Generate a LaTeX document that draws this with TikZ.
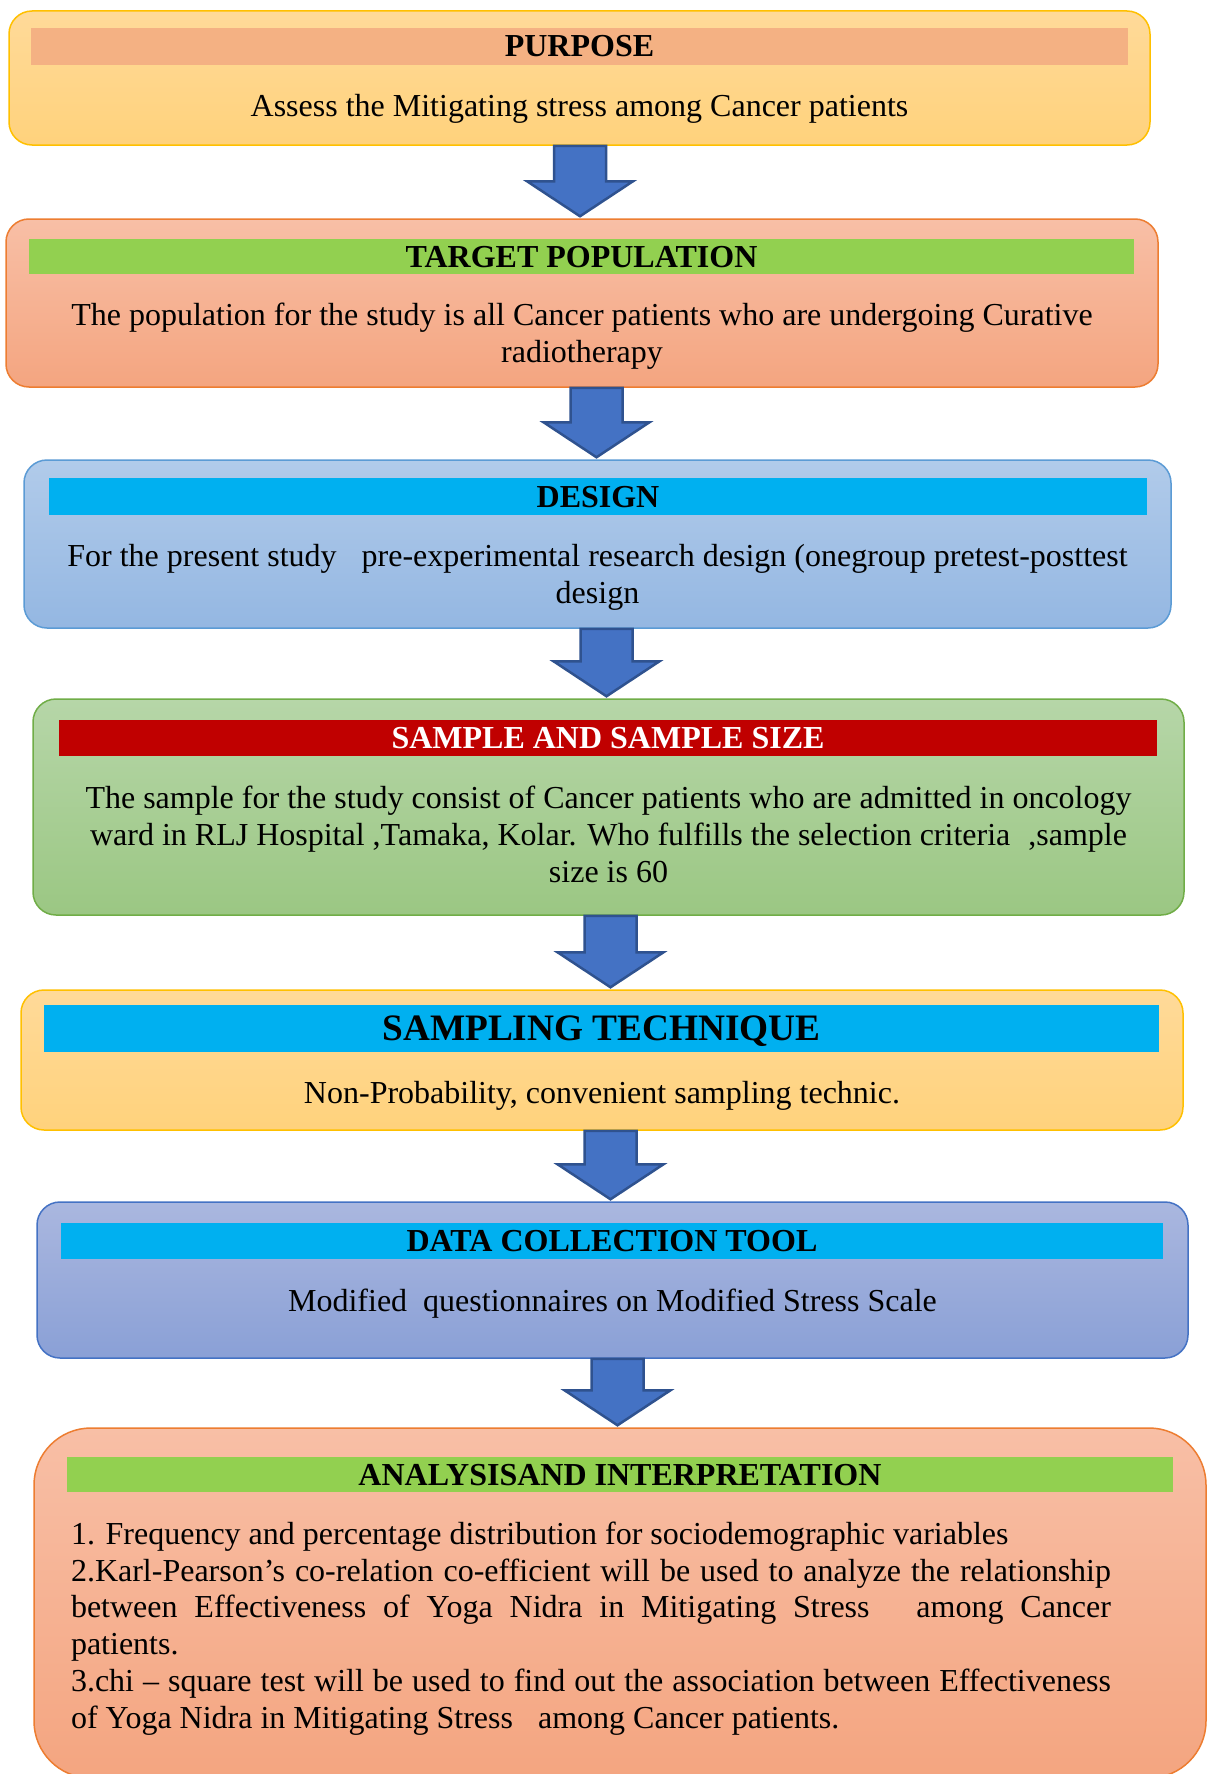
\documentclass[tikz,border=0pt]{standalone}
\usepackage{fontspec}
\setmainfont{Liberation Serif}
\usetikzlibrary{calc}
\definecolor{yTop}{HTML}{FFDA99}
\definecolor{yBot}{HTML}{FFD27C}
\definecolor{yLine}{HTML}{FFC000}
\definecolor{oTop}{HTML}{F8BFA6}
\definecolor{oBot}{HTML}{F4A580}
\definecolor{oLine}{HTML}{ED7D31}
\definecolor{bTop}{HTML}{B1CBEA}
\definecolor{bBot}{HTML}{94B7E2}
\definecolor{bLine}{HTML}{5B9BD5}
\definecolor{gTop}{HTML}{B6D6A8}
\definecolor{gBot}{HTML}{9BC783}
\definecolor{gLine}{HTML}{70AD47}
\definecolor{vTop}{HTML}{AAB7DF}
\definecolor{vBot}{HTML}{8AA0D6}
\definecolor{vLine}{HTML}{4472C4}
\definecolor{hPeach}{HTML}{F4B183}
\definecolor{hGreen}{HTML}{92D050}
\definecolor{hCyan}{HTML}{00B0F0}
\definecolor{hRed}{HTML}{C00000}
\definecolor{arFill}{HTML}{4472C4}
\definecolor{arLine}{HTML}{2F528F}
\newcommand\blockarrow[3]{%
  \draw[blockar] let \p1=(#1.south), \p2=(#2.north) in
    (\x2+#3pt-26pt,\y1) -- (\x2+#3pt+26pt,\y1) -- (\x2+#3pt+26pt,\y2+37pt)
    -- (\x2+#3pt+53pt,\y2+37pt) -- (\x2+#3pt,\y2+2pt) -- (\x2+#3pt-53pt,\y2+37pt)
    -- (\x2+#3pt-26pt,\y2+37pt) -- cycle;}
\begin{document}
\begin{tikzpicture}[x=1pt,y=-1pt,
  box/.style={rectangle, rounded corners=23pt, line width=1.5pt, inner sep=0pt},
  hdr/.style={rectangle, inner sep=0pt, text height=21pt, text depth=0pt,
    font=\fontsize{32}{36.8}\selectfont\bfseries},
  bigHdr/.style={hdr, text height=24.7pt, font=\fontsize{37.3}{42.9}\selectfont\bfseries},
  body/.style={inner sep=0pt, align=center, font=\fontsize{32}{36.8}\selectfont},
  blockar/.style={fill=arFill, draw=arLine, line width=2.5pt, line join=miter}]
\useasboundingbox (0,0) rectangle (1209,1774);
\fill[white] (0,0) rectangle (1209,1774);
\clip (0,0) rectangle (1209,1774);

% boxes
\node[box, top color=yTop, bottom color=yBot, draw=yLine, minimum width=1141pt, minimum height=134pt] (b1) at (579.5,78) {};
\node[box, top color=oTop, bottom color=oBot, draw=oLine, minimum width=1152pt, minimum height=168pt] (b2) at (582,303) {};
\node[box, top color=bTop, bottom color=bBot, draw=bLine, minimum width=1147pt, minimum height=168pt] (b3) at (597.5,544) {};
\node[box, top color=gTop, bottom color=gBot, draw=gLine, minimum width=1151pt, minimum height=216pt] (b4) at (608.5,807) {};
\node[box, top color=yTop, bottom color=yBot, draw=yLine, minimum width=1162pt, minimum height=140pt] (b5) at (602,1060) {};
\node[box, top color=vTop, bottom color=vBot, draw=vLine, minimum width=1151pt, minimum height=156pt] (b6) at (612.5,1280) {};
\node[box, rounded corners=57pt, top color=oTop, bottom color=oBot, draw=oLine, minimum width=1172pt, minimum height=350pt] (b7) at (620,1603) {};

% headers
\node[hdr, fill=hPeach, minimum width=1097pt, minimum height=37pt] (h1) at (579.5,46.5) {PURPOSE};
\node[hdr, fill=hGreen, minimum width=1105pt, minimum height=35pt] (h2) at (581.5,256.5) {TARGET POPULATION};
\node[hdr, fill=hCyan, minimum width=1098pt, minimum height=37pt] (h3) at (598,496.5) {DESIGN};
\node[hdr, fill=hRed, text=white, minimum width=1098pt, minimum height=36pt] (h4) at (608,738) {SAMPLE AND SAMPLE SIZE};
\node[bigHdr, fill=hCyan, minimum width=1115pt, minimum height=47pt] (h5) at (601.5,1028.5) {SAMPLING TECHNIQUE};
\node[hdr, fill=hCyan, minimum width=1102pt, minimum height=36pt] (h6) at (612,1241) {DATA COLLECTION TOOL};
\node[hdr, fill=hGreen, minimum width=1106pt, minimum height=35pt] (h7) at (620,1474.5) {ANALYSISAND INTERPRETATION};

% body texts
\node[body] (t1) at (579.5,109) {\strut Assess the Mitigating stress among Cancer patients\strut};
\node[body] (t2) at (582,336.5) {\strut The population for the study is all Cancer patients who are undergoing Curative\\ radiotherapy\strut};
\node[body] (t3) at (597.5,577.5) {\strut For the present study\hspace{17pt} pre-experimental research design (onegroup pretest-posttest\\ design\strut};
\node[body] (t4) at (608.5,838) {\strut The sample for the study consist of Cancer patients who are admitted in oncology\\ ward in RLJ Hospital ,Tamaka, Kolar. Who fulfills the selection criteria\hspace{10pt} ,sample\\ size is 60\strut};
\node[body] (t5) at (602,1096) {\strut Non-Probability, convenient sampling technic.\strut};
\node[body] (t6) at (612.5,1304) {\strut Modified\hspace{8pt} questionnaires on Modified Stress Scale\strut};
\node[inner sep=0pt, text width=1040pt, align=justify, font=\fontsize{32}{36.8}\selectfont] (t7) at (591,1629) {\tolerance=10000\strut 1. Frequency and percentage distribution for sociodemographic variables\newline
2.Karl-Pearson’s co-relation co-efficient will be used to analyze the relationship\linebreak
between Effectiveness of Yoga Nidra in Mitigating Stress\hspace{30pt} among Cancer\linebreak
patients.\newline
3.chi – square test will be used to find out the association between Effectiveness\linebreak
of Yoga Nidra in Mitigating Stress\hspace{17pt} among Cancer patients.\strut};

% arrows
\blockarrow{b1}{b2}{-2}
\blockarrow{b2}{b3}{-1}
\blockarrow{b3}{b4}{-2}
\blockarrow{b4}{b5}{8.5}
\blockarrow{b5}{b6}{-2}
\blockarrow{b6}{b7}{-2.5}
\end{tikzpicture}
\end{document}
